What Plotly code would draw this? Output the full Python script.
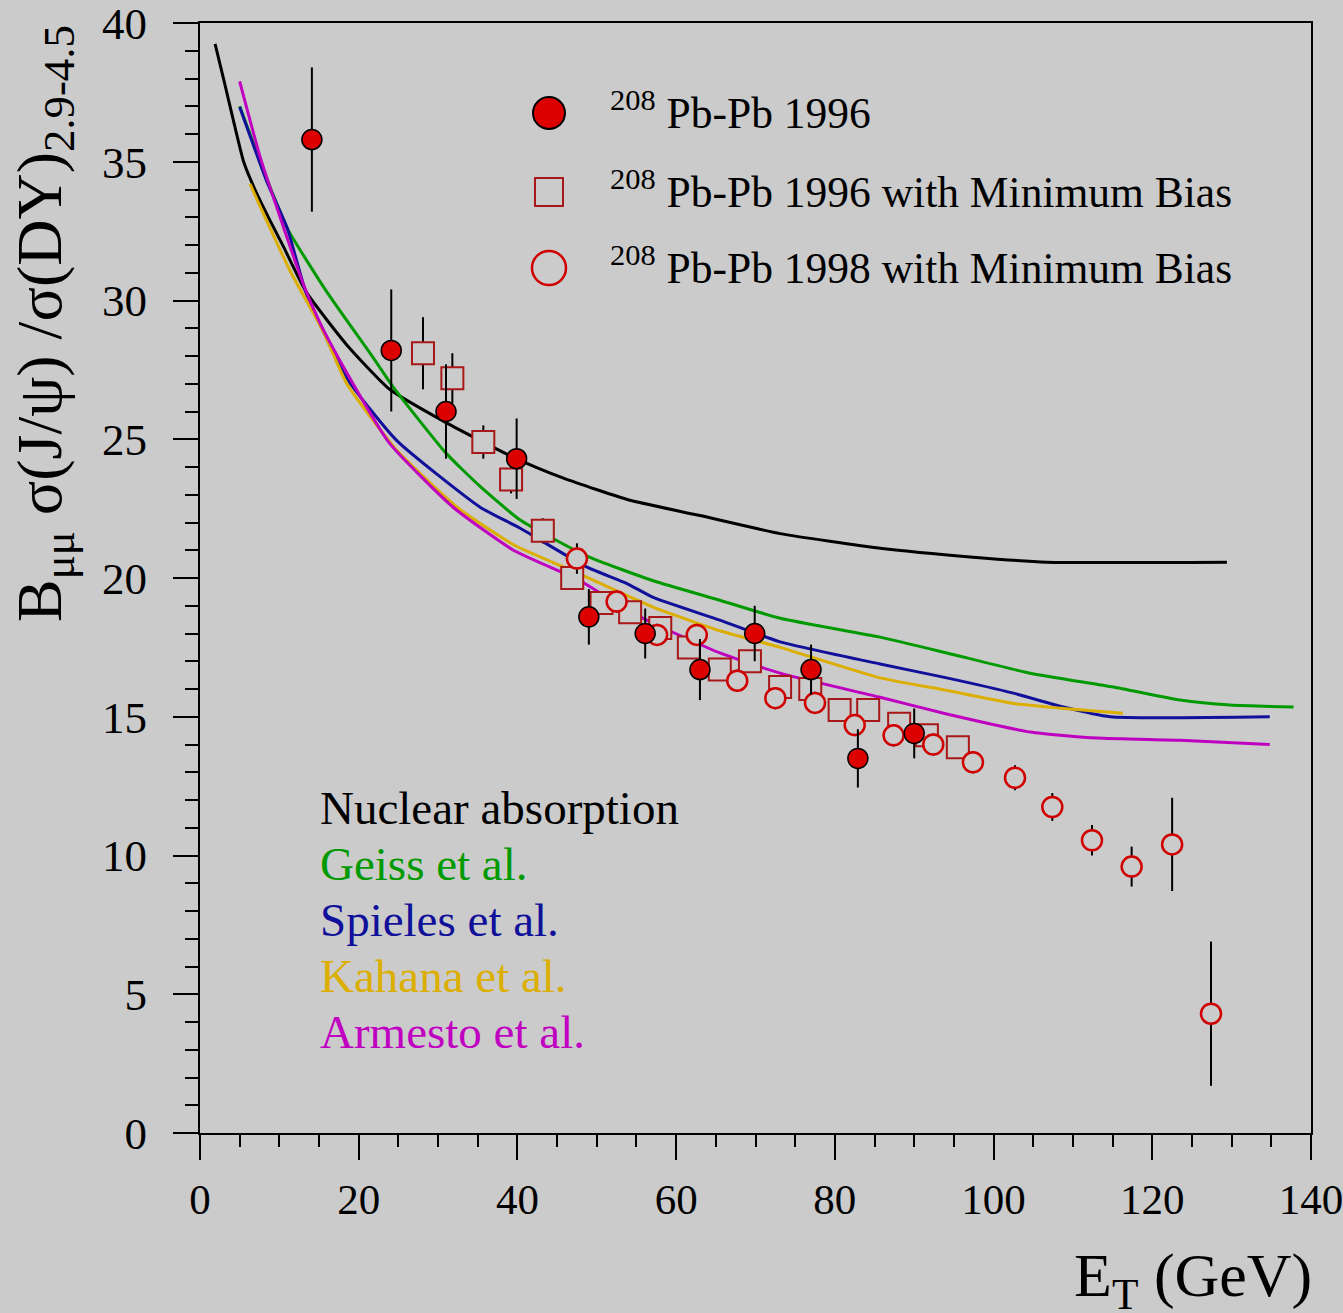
import plotly.graph_objects as go

# ---- measured J/psi over Drell-Yan ratio vs transverse energy ----
pb96_et = [14.1, 24.1, 31.0, 39.9, 49.0, 56.1, 63.0, 69.9, 77.0, 82.9, 90.0]
pb96_ratio = [35.8, 28.2, 26.0, 24.3, 18.6, 18.0, 16.7, 18.0, 16.7, 13.5, 14.4]
pb96_err = [2.6, 2.2, 1.7, 1.45, 1.0, 0.9, 1.1, 1.0, 0.9, 1.05, 0.9]

mb96_et = [28.1, 31.8, 35.7, 39.2, 43.2, 46.9, 50.6, 54.2, 58.0, 61.6, 65.5, 69.3,
           73.1, 76.9, 80.6, 84.2, 88.1, 91.6, 95.5]
mb96_ratio = [28.1, 27.2, 24.9, 23.55, 21.7, 20.0, 19.1, 18.77, 18.2, 17.5, 16.7, 17.0,
              16.07, 16.0, 15.24, 15.24, 14.75, 14.33, 13.9]
mb96_err = [1.3, 0.9, 0.6, 0.5, 0.45, 0.3, 0.3, 0.3, 0.3, 0.3, 0.3, 0.3,
            0.3, 0.3, 0.3, 0.3, 0.3, 0.3, 0.3]

mb98_et = [47.5, 52.5, 57.6, 62.6, 67.7, 72.5, 77.5, 82.5, 87.4, 92.4, 97.4, 102.7,
           107.4, 112.4, 117.4, 122.5, 127.4]
mb98_ratio = [20.7, 19.15, 17.95, 17.95, 16.3, 15.67, 15.5, 14.7, 14.33, 14.0, 13.36, 12.8,
              11.75, 10.55, 9.6, 10.4, 4.3]
mb98_err = [0.55, 0.4, 0.4, 0.4, 0.4, 0.4, 0.4, 0.4, 0.4, 0.4, 0.4, 0.45,
            0.5, 0.55, 0.72, 1.68, 2.6]

# ---- model curves ----
nucl_et = [1.9, 3.0, 4.2, 5.5, 7.0, 8.7, 10.5, 13.4, 18.5, 23.9, 31.0, 39.5, 45.8,
           54.2, 63.0, 73.1, 85.7, 97.4, 106.7, 129.4]
nucl_ratio = [39.25, 37.95, 36.5, 35.0, 33.95, 32.95, 31.95, 30.3, 28.4, 26.8, 25.6, 24.35,
              23.6, 22.8, 22.25, 21.6, 21.07, 20.75, 20.57, 20.57]

geiss_et = [5.0, 8.4, 11.0, 16.0, 21.8, 24.3, 31.0, 35.3, 40.3, 48.7, 57.1, 65.5, 73.1,
            85.7, 94.1, 104.6, 115.1, 123.5, 129.8, 137.8]
geiss_ratio = [37.0, 34.4, 32.6, 30.3, 27.95, 26.9, 24.5, 23.3, 22.1, 20.8, 19.9, 19.2,
               18.55, 17.87, 17.3, 16.57, 16.07, 15.6, 15.42, 15.35]

spieles_et = [5.0, 8.4, 11.0, 13.4, 18.5, 24.8, 35.3, 40.3, 48.7, 53.8, 57.1, 65.5,
              73.1, 85.7, 94.1, 102.5, 108.8, 114.7, 134.8]
spieles_ratio = [36.97, 34.3, 32.6, 30.25, 27.2, 24.95, 22.55, 21.8, 20.4, 19.8, 19.3,
                 18.48, 17.7, 16.9, 16.4, 15.85, 15.35, 15.0, 15.0]

kahana_et = [6.3, 11.3, 15.5, 18.5, 24.8, 32.4, 39.5, 45.8, 48.7, 57.1, 65.5, 73.1,
             85.7, 94.1, 102.5, 108.8, 116.3]
kahana_ratio = [34.2, 31.1, 28.9, 27.0, 24.6, 22.55, 21.2, 20.4, 20.03, 18.95, 18.1,
                17.5, 16.4, 15.95, 15.48, 15.3, 15.13]

armesto_et = [5.0, 7.6, 10.1, 13.0, 15.1, 17.6, 23.9, 31.9, 39.5, 47.9, 53.8, 57.1,
              65.5, 73.1, 85.7, 94.1, 104.6, 113.0, 123.5, 134.8]
armesto_ratio = [37.9, 35.15, 33.0, 30.6, 29.2, 27.85, 24.85, 22.55, 21.0, 19.9, 18.85,
                 18.37, 17.3, 16.57, 15.7, 15.1, 14.45, 14.23, 14.15, 14.0]

model_names = ["Nuclear absorption", "Geiss et al.", "Spieles et al.",
               "Kahana et al.", "Armesto et al."]
model_colors = ["#000000", "#009a00", "#10109a", "#dcae00", "#c000c0"]
models = [(nucl_et, nucl_ratio), (geiss_et, geiss_ratio), (spieles_et, spieles_ratio),
          (kahana_et, kahana_ratio), (armesto_et, armesto_ratio)]

data_labels = ["<sup>208</sup> Pb-Pb 1996",
               "<sup>208</sup> Pb-Pb 1996 with Minimum Bias",
               "<sup>208</sup> Pb-Pb 1998 with Minimum Bias"]

BG = "#cbcbcb"
FONT = "Liberation Serif"
W, H = 1343, 1313
ML, MR, MT, MB = 200, 32, 23, 180
PW, PH = W - ML - MR, H - MT - MB


def px(x):
    return (x - ML) / PW


def py(y):
    return (H - MB - y) / PH


fig = go.Figure()

# model curves
for (xs, ys), name, col in zip(models, model_names, model_colors):
    fig.add_trace(go.Scatter(x=xs, y=ys, mode="lines", name=name,
                             line=dict(color=col, width=3, shape="spline", smoothing=0.5),
                             showlegend=False))

err_style = dict(type="data", color="black", thickness=2, width=0)

fig.add_trace(go.Scatter(
    x=mb96_et, y=mb96_ratio, mode="markers", showlegend=False,
    error_y=dict(array=mb96_err, **err_style),
    marker=dict(symbol="square", size=22, color=BG, line=dict(color="#a81818", width=2))))

fig.add_trace(go.Scatter(
    x=mb98_et, y=mb98_ratio, mode="markers", showlegend=False,
    error_y=dict(array=mb98_err, **err_style),
    marker=dict(symbol="circle", size=20, color=BG, line=dict(color="#d00000", width=2.5))))

fig.add_trace(go.Scatter(
    x=pb96_et, y=pb96_ratio, mode="markers", showlegend=False,
    error_y=dict(array=pb96_err, **err_style),
    marker=dict(symbol="circle", size=20, color="#dd0000", line=dict(color="black", width=1.5))))

shapes = []
annotations = []

# key for the measured series
row_y = [113, 192, 268]
shapes.append(dict(type="circle", xref="paper", yref="paper",
                   x0=px(533), x1=px(565), y0=py(129), y1=py(97),
                   fillcolor="#dd0000", line=dict(color="black", width=2)))
shapes.append(dict(type="rect", xref="paper", yref="paper",
                   x0=px(535), x1=px(563), y0=py(206), y1=py(178),
                   fillcolor="rgba(0,0,0,0)", line=dict(color="#a81818", width=2)))
shapes.append(dict(type="circle", xref="paper", yref="paper",
                   x0=px(532), x1=px(566), y0=py(285), y1=py(251),
                   fillcolor="rgba(0,0,0,0)", line=dict(color="#d00000", width=2.5)))
for lbl, yy in zip(data_labels, row_y):
    annotations.append(dict(text=lbl, xref="paper", yref="paper", x=px(608), y=py(yy - 3),
                            xanchor="left", yanchor="middle", showarrow=False,
                            font=dict(family=FONT, size=43.5, color="black")))

# key for the model curves
for i, (name, col) in enumerate(zip(model_names, model_colors)):
    mid = 808 + 56.0 * i
    annotations.append(dict(text=name, xref="paper", yref="paper", x=px(318), y=py(mid),
                            xanchor="left", yanchor="middle", showarrow=False,
                            font=dict(family=FONT, size=47, color=col)))

# axis titles
annotations.append(dict(text="B<sub>μμ</sub> σ(J/ψ) /σ(DY)<sub>2.9-4.5</sub>",
                        xref="paper", yref="paper", x=px(44), y=py(324),
                        xanchor="center", yanchor="middle", textangle=-90, showarrow=False,
                        font=dict(family=FONT, size=64, color="black")))
annotations.append(dict(text="E<sub>T</sub> (GeV)", xref="paper", yref="paper",
                        x=px(1314), y=py(1279), xanchor="right", yanchor="middle",
                        showarrow=False, font=dict(family=FONT, size=62, color="black")))

fig.update_layout(
    width=W, height=H,
    margin=dict(l=ML, r=MR, t=MT, b=MB, pad=0),
    paper_bgcolor=BG, plot_bgcolor=BG,
    showlegend=False,
    shapes=shapes, annotations=annotations,
    font=dict(family=FONT, color="black"),
)

fig.update_xaxes(
    range=[0, 140], tickvals=[0, 20, 40, 60, 80, 100, 120, 140],
    ticks="outside", ticklen=25, tickwidth=2, tickcolor="black",
    minor=dict(ticks="outside", ticklen=12, tickwidth=2, tickcolor="black", dtick=5, tick0=0),
    showline=True, linecolor="black", linewidth=2, mirror=True,
    showgrid=False, zeroline=False, automargin=False,
    tickfont=dict(family=FONT, size=43, color="black"), ticklabelstandoff=2,
    ticklabeloverflow="allow",
)
fig.update_yaxes(
    range=[0, 40], tickvals=[0, 5, 10, 15, 20, 25, 30, 35, 40],
    ticks="outside", ticklen=25, tickwidth=2, tickcolor="black",
    minor=dict(ticks="outside", ticklen=13, tickwidth=2, tickcolor="black", dtick=1, tick0=0),
    showline=True, linecolor="black", linewidth=2, mirror=True,
    showgrid=False, zeroline=False, automargin=False,
    tickfont=dict(family=FONT, size=45, color="black"), ticklabelstandoff=17,
    ticklabeloverflow="allow",
)

fig.write_html("out.html")
